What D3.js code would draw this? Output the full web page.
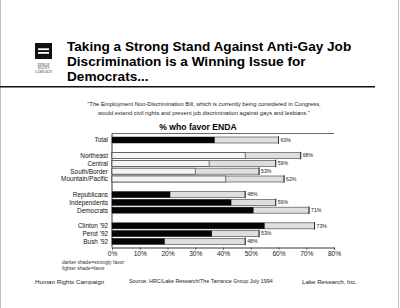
<!DOCTYPE html>
<html>
<head>
<meta charset="utf-8">
<script src="https://cdn.jsdelivr.net/npm/d3@7"></script>
<style>
  body { margin: 0; background: #fff; }
  svg { display: block; font-family: "Liberation Sans", Arial, sans-serif; }
</style>
</head>
<body>
<div id="chart"></div>
<script>
// rows, gaps mark the blank slots between groups
var rows = ["Total", "gap1", "Northeast", "Central", "South/Border", "Mountain/Pacific", "gap2",
  "Republicans", "Independents", "Democrats", "gap3", "Clinton '92", "Perot '92", "Bush '92"];
var categories = ["Total", "Northeast", "Central", "South/Border", "Mountain/Pacific",
  "Republicans", "Independents", "Democrats", "Clinton '92", "Perot '92", "Bush '92"];
var strongFavor = [37, 48, 35, 30, 41, 21, 43, 51, 55, 36, 19];
var totalFavor = [60, 68, 59, 53, 62, 48, 59, 71, 73, 53, 48];
var xTicks = [0, 10, 20, 30, 40, 50, 60, 70, 80];
// rows whose dark shade came out pale in the print
var paleRows = ["Northeast", "Central", "South/Border", "Mountain/Pacific"];

var titleLines = ["Taking a Strong Stand Against Anti-Gay Job",
  "Discrimination is a Winning Issue for", "Democrats..."];
var quoteLines = ["\"The Employment Non-Discrimination Bill, which is currently being considered in Congress,",
  "would extend civil rights and prevent job discrimination against gays and lesbians.\""];

var svgWidth = 400, svgHeight = 308;

var svg = d3.select("#chart").append("svg")
  .attr("width", svgWidth)
  .attr("height", svgHeight);

// scan edges
svg.append("line").attr("x1", 0.5).attr("x2", 0.5).attr("y1", 0).attr("y2", svgHeight)
  .attr("stroke", "#bbb").attr("stroke-width", 1);
svg.append("line").attr("x1", 398.5).attr("x2", 398.5).attr("y1", 0).attr("y2", svgHeight)
  .attr("stroke", "#bbb").attr("stroke-width", 1);

// logo
var logo = svg.append("g");
logo.append("rect").attr("x", 35).attr("y", 43).attr("width", 17).attr("height", 16).attr("fill", "#111");
logo.append("rect").attr("x", 38).attr("y", 48.3).attr("width", 11).attr("height", 1.8).attr("fill", "#fff");
logo.append("rect").attr("x", 38).attr("y", 52).attr("width", 11).attr("height", 1.8).attr("fill", "#fff");
["HUMAN", "RIGHTS", "CAMPAIGN"].forEach(function(t, i) {
  logo.append("text").attr("x", 43.5).attr("y", 65.5 + i * 3.8)
    .attr("text-anchor", "middle").attr("font-size", 3.2).attr("fill", "#333")
    .attr("font-family", "Liberation Serif, serif")
    .text(t);
});

// title
titleLines.forEach(function(t, i) {
  svg.append("text").attr("x", 67).attr("y", 50.5 + i * 15.3)
    .attr("font-size", 13.6).attr("font-weight", "bold").attr("fill", "#000")
    .text(t);
});
svg.append("line").attr("x1", 0).attr("x2", 375).attr("y1", 86.8).attr("y2", 86.8)
  .attr("stroke", "#111").attr("stroke-width", 1.6);

// quote
quoteLines.forEach(function(t, i) {
  svg.append("text").attr("x", 204).attr("y", 106 + i * 9.3)
    .attr("text-anchor", "middle").attr("font-size", 5.8).attr("fill", "#222")
    .text(t);
});
svg.append("text").attr("x", 198).attr("y", 130)
  .attr("text-anchor", "middle").attr("font-size", 8.6).attr("font-weight", "bold")
  .text("% who favor ENDA");

// scales
var x = d3.scaleLinear().domain([0, 80]).range([112, 334]);
var y = d3.scalePoint().domain(rows).range([140, 241.4]);
var barH = 6;

var chart = svg.append("g");

// frame
chart.append("line").attr("x1", x(0)).attr("x2", x(80)).attr("y1", 133.5).attr("y2", 133.5)
  .attr("stroke", "#444").attr("stroke-width", 0.8);
chart.append("line").attr("x1", x(0)).attr("x2", x(0)).attr("y1", 133.5).attr("y2", 247.5)
  .attr("stroke", "#222").attr("stroke-width", 0.9);

var xAxis = d3.axisBottom(x)
  .tickValues(xTicks)
  .tickSize(2)
  .tickFormat(function(d) { return d + "%"; });

var xg = chart.append("g")
  .attr("transform", "translate(0,247.5)")
  .call(xAxis);
xg.select(".domain").attr("stroke", "#222").attr("stroke-width", 0.9);
xg.selectAll(".tick line").attr("stroke", "#444");
xg.selectAll(".tick text").attr("font-size", 6.6).attr("fill", "#222")
  .attr("font-family", "Liberation Sans, Arial, sans-serif")
  .attr("y", 4).attr("dy", "0.71em");

// category labels
chart.selectAll(".cat")
  .data(categories)
  .enter()
  .append("text")
  .attr("class", "cat")
  .attr("x", 108)
  .attr("y", d => y(d) + 2.3)
  .attr("text-anchor", "end")
  .attr("font-size", 6.4)
  .attr("fill", "#111")
  .text(d => d);

var barData = categories.map(function(c, i) {
  return { name: c, strong: strongFavor[i], total: totalFavor[i] };
});

var bars = chart.selectAll(".bar")
  .data(barData)
  .enter()
  .append("g")
  .attr("class", "bar");

bars.append("rect")
  .attr("x", x(0))
  .attr("y", d => y(d.name) - barH / 2)
  .attr("width", d => x(d.total) - x(0))
  .attr("height", barH)
  .attr("fill", "#dedede")
  .attr("stroke", "#555")
  .attr("stroke-width", 0.7);

bars.append("rect")
  .attr("x", x(0))
  .attr("y", d => y(d.name) - barH / 2)
  .attr("width", d => x(d.strong) - x(0))
  .attr("height", barH)
  .attr("fill", d => paleRows.indexOf(d.name) >= 0 ? "#f4f4f4" : "#050505")
  .attr("stroke", d => paleRows.indexOf(d.name) >= 0 ? "#444" : "none")
  .attr("stroke-width", 0.7);

// end caps
bars.append("line")
  .attr("x1", d => x(d.total))
  .attr("x2", d => x(d.total))
  .attr("y1", d => y(d.name) - barH / 2 - 0.8)
  .attr("y2", d => y(d.name) + barH / 2 + 0.8)
  .attr("stroke", "#222")
  .attr("stroke-width", 0.9);

bars.append("text")
  .attr("x", d => x(d.total) + 2)
  .attr("y", d => y(d.name) + 1.8)
  .attr("font-size", 5.2)
  .attr("fill", "#222")
  .text(d => d.total + "%");

// shade notes
svg.append("text").attr("x", 62).attr("y", 263.5).attr("font-size", 5).attr("fill", "#333")
  .text("darker shade=strongly favor");
svg.append("text").attr("x", 62).attr("y", 269.5).attr("font-size", 5).attr("fill", "#333")
  .text("lighter shade=favor");

// footer
svg.append("text").attr("x", 35).attr("y", 283.5).attr("font-size", 6.2).attr("fill", "#222")
  .text("Human Rights Campaign");
svg.append("text").attr("x", 129).attr("y", 283).attr("font-size", 5.4).attr("fill", "#222")
  .text("Source:  HRC/Lake Research/The Tarrance Group  July 1994");
svg.append("text").attr("x", 302).attr("y", 283.5).attr("font-size", 6.2).attr("fill", "#222")
  .text("Lake Research, Inc.");
</script>
</body>
</html>
